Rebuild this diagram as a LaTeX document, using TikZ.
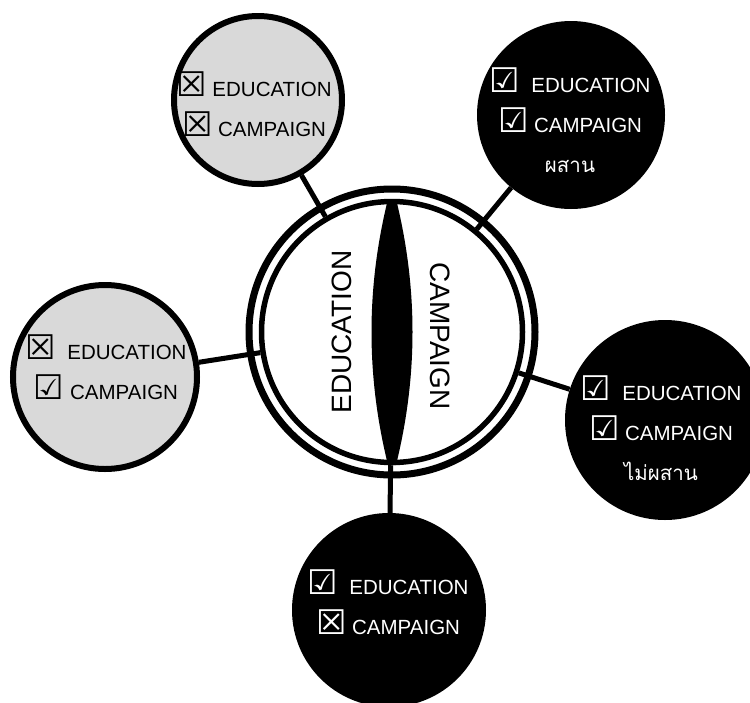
\documentclass[tikz,border=0pt]{standalone}
\usepackage{fontspec}
\setmainfont{Liberation Sans}
\newfontfamily\symfont{DejaVu Sans}
\newfontfamily\thaifont[Script=Thai]{Loma}
\usetikzlibrary{positioning}
\definecolor{lightgrey}{RGB}{217,217,217}
\newcommand{\chkyes}{{\symfont\fontsize{34}{34}\selectfont ☑}}
\newcommand{\chkno}{{\symfont\fontsize{34}{34}\selectfont ☒}}

\begin{document}
\begin{tikzpicture}[x=1pt,y=-1pt]
        \tikzset{every node/.style={circle, inner sep=0pt},
                grey/.style={fill=lightgrey, draw=black, line width=6pt},
                dark/.style={fill=black},
                txt/.style={rectangle, align=center, font=\fontsize{20.5}{40}\selectfont},
                big/.style={rectangle, font=\fontsize{28}{28}\selectfont},
                every edge/.style={draw=black, line width=5pt}}
        \useasboundingbox (0,0) rectangle (750,702);

        % centre rings and lens
        \node[draw, line width=7pt, minimum size=286pt] (r) at (392,332) {};
        \node[draw, line width=5.5pt, minimum size=261pt] (0) at (392,332) {};
        \fill (388,199) -- (396,199) .. controls (418,288) and (418,376) .. (396,465)
              -- (388,465) .. controls (366,376) and (366,288) .. (388,199);
        \node[big, rotate=90] (e) at (342,332) {EDUCATION};
        \node[big, rotate=-90] (c) at (440,336) {CAMPAIGN};

        % outer circles
        \node[grey, minimum size=168pt] (1) at (258,100) {};
        \node[dark, minimum size=188pt] (2) at (571,115) {};
        \node[grey, minimum size=184pt] (3) at (105,377) {};
        \node[dark, minimum size=200pt] (4) at (665,420) {};
        \node[dark, minimum size=194pt] (5) at (389,610) {};

        \node[txt] (6) at (254,104) {\chkno\ EDUCATION\\\chkno\ CAMPAIGN};
        \node[txt, text=white] (7) at (570,120) {\chkyes\ \ EDUCATION\\\chkyes\ CAMPAIGN\\{\thaifont ผสาน}};
        \node[txt] (8) at (106,367) {\chkno\ \ EDUCATION\\\chkyes\ CAMPAIGN};
        \node[txt, text=white] (9) at (661,428) {\chkyes\ \ EDUCATION\\\chkyes\ CAMPAIGN\\{\thaifont ไม่ผสาน}};
        \node[txt, text=white] (10) at (388,602) {\chkyes\ \ EDUCATION\\\chkno\ CAMPAIGN};

        \path (1) edge (0);
        \path (2) edge (0);
        \path (3) edge (0);
        \path (4) edge (0);
        \path (5) edge (0);

\end{tikzpicture}
\end{document}
